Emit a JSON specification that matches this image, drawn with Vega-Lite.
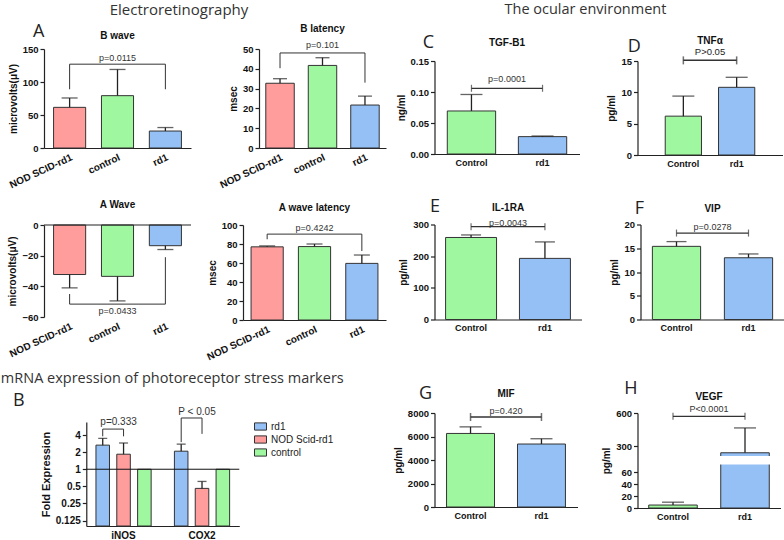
{
  "$schema": "https://vega.github.io/schema/vega-lite/v6.json",
  "background": "white",
  "padding": {"left": 0, "top": 2, "right": 0, "bottom": 0},
  "config": {
    "font": "Liberation Sans",
    "view": {"stroke": null},
    "axis": {"grid": false, "domainColor": "#222", "domainWidth": 1.2, "tickColor": "#222", "tickWidth": 1.2, "tickSize": 4, "labelOverlap": false,
      "labelFont": "Liberation Sans", "labelFontWeight": "bold", "labelFontSize": 9.5, "labelColor": "#111", "labelPadding": 2,
      "titleFont": "Liberation Sans", "titleFontWeight": "bold", "titleFontSize": 10, "titleColor": "#111", "titlePadding": 4},
    "axisX": {"ticks": false, "labelAngle": 0, "labelPadding": 4},
    "title": {"font": "Liberation Sans", "fontSize": 10, "fontWeight": "bold", "color": "#111", "frame": "group", "offset": 7,
      "subtitleFont": "Liberation Sans", "subtitleFontSize": 9.5, "subtitleColor": "#222", "subtitlePadding": 1},
    "text": {"font": "Liberation Sans", "fontSize": 9, "color": "#333"}
  },
  "datasets": {
    "bwave": [{"g": "NOD SCID-rd1", "v": 61.6, "e": 75.8}, {"g": "control", "v": 79.3, "e": 119}, {"g": "rd1", "v": 25.7, "e": 31}],
    "bwave_br": [{"g": "NOD SCID-rd1", "y": 89, "o": 1}, {"g": "NOD SCID-rd1", "y": 127, "o": 2}, {"g": "rd1", "y": 127, "o": 3}, {"g": "rd1", "y": 89, "o": 4}],
    "bwave_p": [{"g": "control", "y": 137, "label": "p=0.0115"}],
    "blat": [{"g": "NOD SCID-rd1", "v": 32.7, "e": 35}, {"g": "control", "v": 41.7, "e": 45.6}, {"g": "rd1", "v": 21.7, "e": 26.2}],
    "blat_br": [{"g": "NOD SCID-rd1", "y": 40.3, "o": 1}, {"g": "NOD SCID-rd1", "y": 48, "o": 2}, {"g": "rd1", "y": 48, "o": 3}, {"g": "rd1", "y": 33, "o": 4}],
    "blat_p": [{"g": "control", "y": 51.8, "label": "p=0.101"}],
    "awave": [{"g": "NOD SCID-rd1", "v": -32.3, "e": -41}, {"g": "control", "v": -33.5, "e": -49.5}, {"g": "rd1", "v": -13.5, "e": -16}],
    "awave_br": [{"g": "NOD SCID-rd1", "y": -45, "o": 1}, {"g": "NOD SCID-rd1", "y": -51.6, "o": 2}, {"g": "rd1", "y": -51.6, "o": 3}, {"g": "rd1", "y": -21, "o": 4}],
    "awave_p": [{"g": "control", "y": -56, "label": "p=0.0433"}],
    "alat": [{"g": "NOD SCID-rd1", "v": 77, "e": 78}, {"g": "control", "v": 77.3, "e": 80}, {"g": "rd1", "v": 59.6, "e": 68.4}],
    "alat_br": [{"g": "NOD SCID-rd1", "y": 85, "o": 1}, {"g": "NOD SCID-rd1", "y": 90.4, "o": 2}, {"g": "rd1", "y": 90.4, "o": 3}, {"g": "rd1", "y": 72.6, "o": 4}],
    "alat_p": [{"g": "control", "y": 97, "label": "p=0.4242"}],
    "mrna": [
      {"cat": "iNOS", "grp": "rd1", "v": 2.66, "e": 3.5},
      {"cat": "iNOS", "grp": "NOD Scid-rd1", "v": 1.84, "e": 2.9},
      {"cat": "iNOS", "grp": "control", "v": 1},
      {"cat": "COX2", "grp": "rd1", "v": 2.08, "e": 2.77},
      {"cat": "COX2", "grp": "NOD Scid-rd1", "v": 0.46, "e": 0.61},
      {"cat": "COX2", "grp": "control", "v": 1}
    ],
    "mrna_br": [
      {"cat": "iNOS", "grp": "rd1", "y": 3.8, "o": 1},
      {"cat": "iNOS", "grp": "rd1", "y": 5.1, "o": 2},
      {"cat": "iNOS", "grp": "NOD Scid-rd1", "y": 5.1, "o": 3},
      {"cat": "iNOS", "grp": "NOD Scid-rd1", "y": 3.8, "o": 4},
      {"cat": "COX2", "grp": "rd1", "y": 3.0, "o": 1},
      {"cat": "COX2", "grp": "rd1", "y": 8.0, "o": 2},
      {"cat": "COX2", "grp": "NOD Scid-rd1", "y": 8.0, "o": 3},
      {"cat": "COX2", "grp": "NOD Scid-rd1", "y": 4.2, "o": 4}
    ],
    "mrna_p": [{"cat": "iNOS", "y": 6.8, "label": "p=0.333"}, {"cat": "COX2", "y": 10.2, "label": "P < 0.05"}],
    "tgf": [{"g": "Control", "v": 0.0694, "e": 0.096}, {"g": "rd1", "v": 0.028, "e": 0.029}],
    "tgf_br": [{"g": "Control", "y": 0.106}, {"g": "rd1", "y": 0.106}],
    "tgf_p": [{"y": 0.121, "label": "p=0.0001"}],
    "tnf": [{"g": "Control", "v": 6.2, "e": 9.4}, {"g": "rd1", "v": 10.8, "e": 12.4}],
    "tnf_br": [{"g": "Control", "y": 15.1}, {"g": "rd1", "y": 15.1}],
    "il": [{"g": "Control", "v": 259, "e": 267}, {"g": "rd1", "v": 193, "e": 245}],
    "il_br": [{"g": "Control", "y": 293}, {"g": "rd1", "y": 293}],
    "il_p": [{"y": 304, "label": "p=0.0043"}],
    "vip": [{"g": "Control", "v": 15.4, "e": 16.4}, {"g": "rd1", "v": 13.0, "e": 13.8}],
    "vip_br": [{"g": "Control", "y": 18.2}, {"g": "rd1", "y": 18.2}],
    "vip_p": [{"y": 19.4, "label": "p=0.0278"}],
    "mif": [{"g": "Control", "v": 6260, "e": 6820}, {"g": "rd1", "v": 5360, "e": 5810}],
    "mif_br": [{"g": "Control", "y": 7660}, {"g": "rd1", "y": 7660}],
    "mif_p": [{"y": 8170, "label": "p=0.420"}],
    "vegf": [{"g": "Control", "v": 5, "e": 9.8}, {"g": "rd1", "v": 243, "e": 466}],
    "vegf_br": [{"g": "Control", "y": 570}, {"g": "rd1", "y": 570}],
    "vegf_p": [{"y": 636, "label": "P<0.0001"}]
  },
  "resolve": {"scale": {"fill": "independent", "color": "shared"}, "legend": {"color": "shared"}},
  "columns": 2,
  "align": "none",
  "spacing": 6.5,
  "concat": [
    {
      "spacing": 8,
      "center": true,
      "resolve": {"scale": {"fill": "independent", "color": "shared"}, "legend": {"color": "shared"}},
      "vconcat": [
        {
          "spacing": 10,
          "resolve": {"scale": {"fill": "independent"}},
          "vconcat": [
            {
              "title": {"text": "Electroretinography", "font": "Open Sans", "fontSize": 15, "fontWeight": "normal", "color": "#333", "frame": "bounds", "anchor": "start", "dx": 102, "offset": 5.5},
              "spacing": 68,
              "bounds": "flush",
              "resolve": {"scale": {"fill": "independent"}},
              "hconcat": [
                {
                  "width": 147, "height": 87,
                  "title": {"text": "B wave", "offset": -18},
                  "layer": [
                    {"data": {"name": "bwave"}, "mark": {"type": "bar", "stroke": "#333", "strokeWidth": 1},
                      "encoding": {
                        "x": {"field": "g", "type": "nominal", "title": null, "scale": {"domain": ["NOD SCID-rd1", "control", "rd1"], "paddingInner": 0.33, "paddingOuter": 0.2}, "axis": {"labelAngle": -25, "labelFontSize": 10}},
                        "y": {"field": "v", "type": "quantitative", "title": "microvolts(μV)", "scale": {"domain": [0, 150], "range": [87, -12], "nice": false}, "axis": {"values": [0, 50, 100, 150], "tickCount": 20}},
                        "fill": {"field": "g", "type": "nominal", "scale": {"domain": ["NOD SCID-rd1", "control", "rd1"], "range": ["#ff9d9d", "#9ff79f", "#94c0f5"]}, "legend": null}
                      }},
                    {"data": {"name": "bwave"}, "mark": {"type": "rule", "color": "#222", "strokeWidth": 1.3},
                      "encoding": {"x": {"field": "g", "type": "nominal"}, "y": {"field": "v", "type": "quantitative"}, "y2": {"field": "e"}}},
                    {"data": {"name": "bwave"}, "mark": {"type": "tick", "color": "#222", "thickness": 1.3, "size": 16},
                      "encoding": {"x": {"field": "g", "type": "nominal"}, "y": {"field": "e", "type": "quantitative"}}},
                    {"data": {"name": "bwave_br"}, "mark": {"type": "line", "color": "#333", "strokeWidth": 1},
                      "encoding": {"x": {"field": "g", "type": "nominal"}, "y": {"field": "y", "type": "quantitative"}, "order": {"field": "o"}}},
                    {"data": {"name": "bwave_p"}, "mark": {"type": "text"},
                      "encoding": {"x": {"field": "g", "type": "nominal"}, "y": {"field": "y", "type": "quantitative"}, "text": {"field": "label"}}},
                    {"data": {"values": [{"letter": "A"}]}, "mark": {"type": "text", "font": "Open Sans", "fontSize": 18, "color": "#222", "dx": -31, "dy": -17},
                      "encoding": {"x": {"datum": "NOD SCID-rd1"}, "y": {"datum": 150}, "text": {"field": "letter"}}}
                  ]
                },
                {
                  "width": 127, "height": 87,
                  "title": {"text": "B latency", "offset": 7},
                  "layer": [
                    {"data": {"name": "blat"}, "mark": {"type": "bar", "stroke": "#333", "strokeWidth": 1},
                      "encoding": {
                        "x": {"field": "g", "type": "nominal", "title": null, "scale": {"domain": ["NOD SCID-rd1", "control", "rd1"], "paddingInner": 0.33, "paddingOuter": 0.16}, "axis": {"labelAngle": -25, "labelFontSize": 10}},
                        "y": {"field": "v", "type": "quantitative", "title": "msec", "scale": {"domain": [0, 50], "range": [87, -12], "nice": false}, "axis": {"values": [0, 10, 20, 30, 40, 50], "tickCount": 20}},
                        "fill": {"field": "g", "type": "nominal", "scale": {"domain": ["NOD SCID-rd1", "control", "rd1"], "range": ["#ff9d9d", "#9ff79f", "#94c0f5"]}, "legend": null}
                      }},
                    {"data": {"name": "blat"}, "mark": {"type": "rule", "color": "#222", "strokeWidth": 1.3},
                      "encoding": {"x": {"field": "g", "type": "nominal"}, "y": {"field": "v", "type": "quantitative"}, "y2": {"field": "e"}}},
                    {"data": {"name": "blat"}, "mark": {"type": "tick", "color": "#222", "thickness": 1.3, "size": 14},
                      "encoding": {"x": {"field": "g", "type": "nominal"}, "y": {"field": "e", "type": "quantitative"}}},
                    {"data": {"name": "blat_br"}, "mark": {"type": "line", "color": "#333", "strokeWidth": 1},
                      "encoding": {"x": {"field": "g", "type": "nominal"}, "y": {"field": "y", "type": "quantitative"}, "order": {"field": "o"}}},
                    {"data": {"name": "blat_p"}, "mark": {"type": "text"},
                      "encoding": {"x": {"field": "g", "type": "nominal"}, "y": {"field": "y", "type": "quantitative"}, "text": {"field": "label"}}}
                  ]
                }
              ]
            },
            {
              "spacing": 52,
              "bounds": "flush",
              "resolve": {"scale": {"fill": "independent"}},
              "hconcat": [
                {
                  "width": 147, "height": 92,
                  "title": {"text": "A Wave", "offset": 9.75},
                  "layer": [
                    {"data": {"name": "awave"}, "mark": {"type": "bar", "stroke": "#333", "strokeWidth": 1},
                      "encoding": {
                        "x": {"field": "g", "type": "nominal", "title": null, "scale": {"domain": ["NOD SCID-rd1", "control", "rd1"], "paddingInner": 0.33, "paddingOuter": 0.2}, "axis": {"labelAngle": -25, "labelFontSize": 10, "domain": false}},
                        "y": {"field": "v", "type": "quantitative", "title": "microvolts(μV)", "scale": {"domain": [-60, 0], "nice": false}, "axis": {"values": [-60, -40, -20, 0], "tickCount": 20}},
                        "fill": {"field": "g", "type": "nominal", "scale": {"domain": ["NOD SCID-rd1", "control", "rd1"], "range": ["#ff9d9d", "#9ff79f", "#94c0f5"]}, "legend": null}
                      }},
                    {"data": {"name": "awave"}, "mark": {"type": "rule", "color": "#222", "strokeWidth": 1.3},
                      "encoding": {"x": {"field": "g", "type": "nominal"}, "y": {"field": "v", "type": "quantitative"}, "y2": {"field": "e"}}},
                    {"data": {"name": "awave"}, "mark": {"type": "tick", "color": "#222", "thickness": 1.3, "size": 16},
                      "encoding": {"x": {"field": "g", "type": "nominal"}, "y": {"field": "e", "type": "quantitative"}}},
                    {"mark": {"type": "rule", "color": "#222", "strokeWidth": 1.2}, "data": {"values": [{"base": 0}]},
                      "encoding": {"y": {"field": "base", "type": "quantitative"}}},
                    {"data": {"name": "awave_br"}, "mark": {"type": "line", "color": "#333", "strokeWidth": 1},
                      "encoding": {"x": {"field": "g", "type": "nominal"}, "y": {"field": "y", "type": "quantitative"}, "order": {"field": "o"}}},
                    {"data": {"name": "awave_p"}, "mark": {"type": "text"},
                      "encoding": {"x": {"field": "g", "type": "nominal"}, "y": {"field": "y", "type": "quantitative"}, "text": {"field": "label"}}}
                  ]
                },
                {
                  "width": 143, "height": 95,
                  "title": {"text": "A wave latency", "offset": 6.75},
                  "layer": [
                    {"data": {"name": "alat"}, "mark": {"type": "bar", "stroke": "#333", "strokeWidth": 1},
                      "encoding": {
                        "x": {"field": "g", "type": "nominal", "title": null, "scale": {"domain": ["NOD SCID-rd1", "control", "rd1"], "paddingInner": 0.32, "paddingOuter": 0.17}, "axis": {"labelAngle": -25, "labelFontSize": 10}},
                        "y": {"field": "v", "type": "quantitative", "title": "msec", "scale": {"domain": [0, 100], "nice": false}, "axis": {"values": [0, 20, 40, 60, 80, 100], "tickCount": 20}},
                        "fill": {"field": "g", "type": "nominal", "scale": {"domain": ["NOD SCID-rd1", "control", "rd1"], "range": ["#ff9d9d", "#9ff79f", "#94c0f5"]}, "legend": null}
                      }},
                    {"data": {"name": "alat"}, "mark": {"type": "rule", "color": "#222", "strokeWidth": 1.3},
                      "encoding": {"x": {"field": "g", "type": "nominal"}, "y": {"field": "v", "type": "quantitative"}, "y2": {"field": "e"}}},
                    {"data": {"name": "alat"}, "mark": {"type": "tick", "color": "#222", "thickness": 1.3, "size": 16},
                      "encoding": {"x": {"field": "g", "type": "nominal"}, "y": {"field": "e", "type": "quantitative"}}},
                    {"data": {"name": "alat_br"}, "mark": {"type": "line", "color": "#333", "strokeWidth": 1},
                      "encoding": {"x": {"field": "g", "type": "nominal"}, "y": {"field": "y", "type": "quantitative"}, "order": {"field": "o"}}},
                    {"data": {"name": "alat_p"}, "mark": {"type": "text"},
                      "encoding": {"x": {"field": "g", "type": "nominal"}, "y": {"field": "y", "type": "quantitative"}, "text": {"field": "label"}}}
                  ]
                }
              ]
            }
          ]
        },
        {
          "width": 153, "height": 104,
          "title": {"text": "mRNA expression of photoreceptor stress markers", "font": "Open Sans", "fontSize": 14.5, "fontWeight": "normal", "color": "#333", "offset": 6, "dx": 9.5},
          "layer": [
            {"data": {"name": "mrna"}, "mark": {"type": "bar", "stroke": "#333", "strokeWidth": 1},
              "encoding": {
                "x": {"field": "cat", "type": "nominal", "title": null, "scale": {"domain": ["iNOS", "COX2"], "paddingInner": 0.27, "paddingOuter": 0.11}, "axis": {"labelFontSize": 10}},
                "xOffset": {"field": "grp", "type": "nominal", "scale": {"domain": ["rd1", "NOD Scid-rd1", "control"], "paddingInner": 0.35, "paddingOuter": 0.05}},
                "y": {"field": "v", "type": "quantitative", "title": "Fold Expression", "scale": {"type": "log", "base": 2, "domain": [0.1, 6.8], "nice": false}, "axis": {"values": [0.125, 0.25, 0.5, 1, 2, 4], "tickCount": 20, "format": "~g", "titleFontSize": 11, "labelFontSize": 10}},
                "y2": {"datum": 0.1},
                "color": {"field": "grp", "type": "nominal", "scale": {"domain": ["rd1", "NOD Scid-rd1", "control"], "range": ["#94c0f5", "#ff9d9d", "#9ff79f"]},
                  "legend": {"title": null, "orient": "none", "legendX": 210, "legendY": 359, "symbolType": "M-1,-0.6H1V0.6H-1Z", "symbolSize": 144, "symbolStrokeColor": "#333", "symbolStrokeWidth": 1, "labelFont": "Liberation Sans", "labelFontSize": 10, "labelColor": "#222", "rowPadding": 0}}
              }},
            {"data": {"name": "mrna"}, "transform": [{"filter": "isValid(datum.e)"}], "mark": {"type": "rule", "color": "#222", "strokeWidth": 1.3},
              "encoding": {"x": {"field": "cat", "type": "nominal"}, "xOffset": {"field": "grp", "type": "nominal"}, "y": {"field": "v", "type": "quantitative"}, "y2": {"field": "e"}}},
            {"data": {"name": "mrna"}, "transform": [{"filter": "isValid(datum.e)"}], "mark": {"type": "tick", "color": "#222", "thickness": 1.3, "size": 9},
              "encoding": {"x": {"field": "cat", "type": "nominal"}, "xOffset": {"field": "grp", "type": "nominal"}, "y": {"field": "e", "type": "quantitative"}}},
            {"mark": {"type": "rule", "color": "#111", "strokeWidth": 1}, "data": {"values": [{"base": 1}]},
              "encoding": {"y": {"field": "base", "type": "quantitative"}}},
            {"data": {"name": "mrna_br"}, "mark": {"type": "line", "color": "#333", "strokeWidth": 1},
              "encoding": {"x": {"field": "cat", "type": "nominal"}, "xOffset": {"field": "grp", "type": "nominal"}, "y": {"field": "y", "type": "quantitative"}, "order": {"field": "o"}, "detail": {"field": "cat"}}},
            {"data": {"name": "mrna_p"}, "mark": {"type": "text", "fontSize": 10, "dx": -5},
              "encoding": {"x": {"field": "cat", "type": "nominal"}, "y": {"field": "y", "type": "quantitative"}, "text": {"field": "label"}}},
            {"data": {"values": [{"letter": "\u00a0\u00a0\u00a0\u00a0\u00a0\u00a0\u00a0\u00a0B"}]}, "mark": {"type": "text", "font": "Open Sans", "fontSize": 18, "color": "#222", "align": "right", "dx": -99, "dy": -34},
              "encoding": {"x": {"datum": "iNOS"}, "y": {"datum": 4}, "text": {"field": "letter"}}}
          ]
        }
      ]
    },
    {
      "spacing": 46,
      "resolve": {"scale": {"fill": "independent"}},
      "vconcat": [
        {
          "spacing": 29.5,
          "resolve": {"scale": {"fill": "independent"}},
          "vconcat": [
            {
              "title": {"text": "The ocular environment", "font": "Open Sans", "fontSize": 14.5, "fontWeight": "normal", "color": "#333", "frame": "bounds", "anchor": "start", "dx": 108.5, "offset": 16.5},
              "spacing": 58,
              "bounds": "flush",
              "resolve": {"scale": {"fill": "independent"}},
              "hconcat": [
                {
                  "width": 145, "height": 93,
                  "title": {"text": "TGF-B1", "offset": -14},
                  "layer": [
                    {"data": {"name": "tgf"}, "mark": {"type": "bar", "stroke": "#333", "strokeWidth": 1},
                      "encoding": {
                        "x": {"field": "g", "type": "nominal", "title": null, "scale": {"domain": ["Control", "rd1"], "paddingInner": 0.32, "paddingOuter": 0.18}, "axis": {"labelFontSize": 9}},
                        "y": {"field": "v", "type": "quantitative", "title": "ng/ml", "scale": {"domain": [0, 0.15], "nice": false}, "axis": {"values": [0, 0.05, 0.1, 0.15], "tickCount": 20, "format": ".2f"}},
                        "fill": {"field": "g", "type": "nominal", "scale": {"domain": ["Control", "rd1"], "range": ["#9ff79f", "#94c0f5"]}, "legend": null}
                      }},
                    {"data": {"name": "tgf"}, "mark": {"type": "rule", "color": "#222", "strokeWidth": 1.3},
                      "encoding": {"x": {"field": "g", "type": "nominal"}, "y": {"field": "v", "type": "quantitative"}, "y2": {"field": "e"}}},
                    {"data": {"name": "tgf"}, "mark": {"type": "tick", "color": "#222", "thickness": 1.3, "size": 22},
                      "encoding": {"x": {"field": "g", "type": "nominal"}, "y": {"field": "e", "type": "quantitative"}}},
                    {"data": {"name": "tgf_br"}, "mark": {"type": "line", "color": "#333", "strokeWidth": 1.2},
                      "encoding": {"x": {"field": "g", "type": "nominal"}, "y": {"field": "y", "type": "quantitative"}}},
                    {"data": {"name": "tgf_br"}, "mark": {"type": "tick", "orient": "vertical", "color": "#333", "thickness": 1.2, "size": 7},
                      "encoding": {"x": {"field": "g", "type": "nominal"}, "y": {"field": "y", "type": "quantitative"}}},
                    {"data": {"name": "tgf_p"}, "mark": {"type": "text"},
                      "encoding": {"y": {"field": "y", "type": "quantitative"}, "text": {"field": "label"}}},
                    {"data": {"values": [{"letter": "C"}]}, "mark": {"type": "text", "font": "Open Sans", "fontSize": 18, "color": "#222", "dx": -43, "dy": -18},
                      "encoding": {"x": {"datum": "Control"}, "y": {"datum": 0.15}, "text": {"field": "letter"}}}
                  ]
                },
                {
                  "width": 145, "height": 94,
                  "title": {"text": "TNFα", "subtitle": "P>0.05", "offset": -18.75},
                  "layer": [
                    {"data": {"name": "tnf"}, "mark": {"type": "bar", "stroke": "#333", "strokeWidth": 1},
                      "encoding": {
                        "x": {"field": "g", "type": "nominal", "title": null, "scale": {"domain": ["Control", "rd1"], "paddingInner": 0.32, "paddingOuter": 0.52}, "axis": {"labelFontSize": 9}},
                        "y": {"field": "v", "type": "quantitative", "title": "pg/ml", "scale": {"domain": [0, 15], "nice": false}, "axis": {"values": [0, 5, 10, 15], "tickCount": 20}},
                        "fill": {"field": "g", "type": "nominal", "scale": {"domain": ["Control", "rd1"], "range": ["#9ff79f", "#94c0f5"]}, "legend": null}
                      }},
                    {"data": {"name": "tnf"}, "mark": {"type": "rule", "color": "#222", "strokeWidth": 1.3},
                      "encoding": {"x": {"field": "g", "type": "nominal"}, "y": {"field": "v", "type": "quantitative"}, "y2": {"field": "e"}}},
                    {"data": {"name": "tnf"}, "mark": {"type": "tick", "color": "#222", "thickness": 1.3, "size": 22},
                      "encoding": {"x": {"field": "g", "type": "nominal"}, "y": {"field": "e", "type": "quantitative"}}},
                    {"data": {"name": "tnf_br"}, "mark": {"type": "line", "color": "#333", "strokeWidth": 1.5},
                      "encoding": {"x": {"field": "g", "type": "nominal"}, "y": {"field": "y", "type": "quantitative"}}},
                    {"data": {"name": "tnf_br"}, "mark": {"type": "tick", "orient": "vertical", "color": "#333", "thickness": 1.5, "size": 8},
                      "encoding": {"x": {"field": "g", "type": "nominal"}, "y": {"field": "y", "type": "quantitative"}}},
                    {"data": {"values": [{"letter": "D"}]}, "mark": {"type": "text", "font": "Open Sans", "fontSize": 18, "color": "#222", "dx": -49, "dy": -14},
                      "encoding": {"x": {"datum": "Control"}, "y": {"datum": 15}, "text": {"field": "letter"}}}
                  ]
                }
              ]
            },
            {
              "spacing": 59,
              "bounds": "flush",
              "resolve": {"scale": {"fill": "independent"}},
              "hconcat": [
                {
                  "width": 147, "height": 95,
                  "title": {"text": "IL-1RA", "offset": -15},
                  "layer": [
                    {"data": {"name": "il"}, "mark": {"type": "bar", "stroke": "#333", "strokeWidth": 1},
                      "encoding": {
                        "x": {"field": "g", "type": "nominal", "title": null, "scale": {"domain": ["Control", "rd1"], "paddingInner": 0.31, "paddingOuter": 0.15}, "axis": {"labelFontSize": 9}},
                        "y": {"field": "v", "type": "quantitative", "title": "pg/ml", "scale": {"domain": [0, 300], "nice": false}, "axis": {"values": [0, 100, 200, 300], "tickCount": 20}},
                        "fill": {"field": "g", "type": "nominal", "scale": {"domain": ["Control", "rd1"], "range": ["#9ff79f", "#94c0f5"]}, "legend": null}
                      }},
                    {"data": {"name": "il"}, "mark": {"type": "rule", "color": "#222", "strokeWidth": 1.3},
                      "encoding": {"x": {"field": "g", "type": "nominal"}, "y": {"field": "v", "type": "quantitative"}, "y2": {"field": "e"}}},
                    {"data": {"name": "il"}, "mark": {"type": "tick", "color": "#222", "thickness": 1.3, "size": 20},
                      "encoding": {"x": {"field": "g", "type": "nominal"}, "y": {"field": "e", "type": "quantitative"}}},
                    {"data": {"name": "il_br"}, "mark": {"type": "line", "color": "#333", "strokeWidth": 1.2},
                      "encoding": {"x": {"field": "g", "type": "nominal"}, "y": {"field": "y", "type": "quantitative"}}},
                    {"data": {"name": "il_br"}, "mark": {"type": "tick", "orient": "vertical", "color": "#333", "thickness": 1.2, "size": 7},
                      "encoding": {"x": {"field": "g", "type": "nominal"}, "y": {"field": "y", "type": "quantitative"}}},
                    {"data": {"name": "il_p"}, "mark": {"type": "text"},
                      "encoding": {"y": {"field": "y", "type": "quantitative"}, "text": {"field": "label"}}},
                    {"data": {"values": [{"letter": "E"}]}, "mark": {"type": "text", "font": "Open Sans", "fontSize": 18, "color": "#222", "dx": -36, "dy": -17.5},
                      "encoding": {"x": {"datum": "Control"}, "y": {"datum": 300}, "text": {"field": "letter"}}}
                  ]
                },
                {
                  "width": 144, "height": 95,
                  "title": {"text": "VIP", "offset": -14},
                  "layer": [
                    {"data": {"name": "vip"}, "mark": {"type": "bar", "stroke": "#333", "strokeWidth": 1},
                      "encoding": {
                        "x": {"field": "g", "type": "nominal", "title": null, "scale": {"domain": ["Control", "rd1"], "paddingInner": 0.33, "paddingOuter": 0.165}, "axis": {"labelFontSize": 9}},
                        "y": {"field": "v", "type": "quantitative", "title": "pg/ml", "scale": {"domain": [0, 20], "nice": false}, "axis": {"values": [0, 5, 10, 15, 20], "tickCount": 20}},
                        "fill": {"field": "g", "type": "nominal", "scale": {"domain": ["Control", "rd1"], "range": ["#9ff79f", "#94c0f5"]}, "legend": null}
                      }},
                    {"data": {"name": "vip"}, "mark": {"type": "rule", "color": "#222", "strokeWidth": 1.3},
                      "encoding": {"x": {"field": "g", "type": "nominal"}, "y": {"field": "v", "type": "quantitative"}, "y2": {"field": "e"}}},
                    {"data": {"name": "vip"}, "mark": {"type": "tick", "color": "#222", "thickness": 1.3, "size": 20},
                      "encoding": {"x": {"field": "g", "type": "nominal"}, "y": {"field": "e", "type": "quantitative"}}},
                    {"data": {"name": "vip_br"}, "mark": {"type": "line", "color": "#333", "strokeWidth": 1.2},
                      "encoding": {"x": {"field": "g", "type": "nominal"}, "y": {"field": "y", "type": "quantitative"}}},
                    {"data": {"name": "vip_br"}, "mark": {"type": "tick", "orient": "vertical", "color": "#333", "thickness": 1.2, "size": 7},
                      "encoding": {"x": {"field": "g", "type": "nominal"}, "y": {"field": "y", "type": "quantitative"}}},
                    {"data": {"name": "vip_p"}, "mark": {"type": "text"},
                      "encoding": {"y": {"field": "y", "type": "quantitative"}, "text": {"field": "label"}}},
                    {"data": {"values": [{"letter": "F"}]}, "mark": {"type": "text", "font": "Open Sans", "fontSize": 18, "color": "#222", "dx": -37, "dy": -15.5},
                      "encoding": {"x": {"datum": "Control"}, "y": {"datum": 20}, "text": {"field": "letter"}}}
                  ]
                }
              ]
            }
          ]
        },
        {
          "spacing": 60,
          "bounds": "flush",
          "resolve": {"scale": {"fill": "independent"}},
          "hconcat": [
            {
              "width": 143, "height": 94,
              "title": {"text": "MIF", "offset": -14},
              "layer": [
                {"data": {"name": "mif"}, "mark": {"type": "bar", "stroke": "#333", "strokeWidth": 1},
                  "encoding": {
                    "x": {"field": "g", "type": "nominal", "title": null, "scale": {"domain": ["Control", "rd1"], "paddingInner": 0.324, "paddingOuter": 0.17}, "axis": {"labelFontSize": 9}},
                    "y": {"field": "v", "type": "quantitative", "title": "pg/ml", "scale": {"domain": [0, 8000], "nice": false}, "axis": {"values": [0, 2000, 4000, 6000, 8000], "tickCount": 20, "format": "d"}},
                    "fill": {"field": "g", "type": "nominal", "scale": {"domain": ["Control", "rd1"], "range": ["#9ff79f", "#94c0f5"]}, "legend": null}
                  }},
                {"data": {"name": "mif"}, "mark": {"type": "rule", "color": "#222", "strokeWidth": 1.3},
                  "encoding": {"x": {"field": "g", "type": "nominal"}, "y": {"field": "v", "type": "quantitative"}, "y2": {"field": "e"}}},
                {"data": {"name": "mif"}, "mark": {"type": "tick", "color": "#222", "thickness": 1.3, "size": 22},
                  "encoding": {"x": {"field": "g", "type": "nominal"}, "y": {"field": "e", "type": "quantitative"}}},
                {"data": {"name": "mif_br"}, "mark": {"type": "line", "color": "#333", "strokeWidth": 1.5},
                  "encoding": {"x": {"field": "g", "type": "nominal"}, "y": {"field": "y", "type": "quantitative"}}},
                {"data": {"name": "mif_br"}, "mark": {"type": "tick", "orient": "vertical", "color": "#333", "thickness": 1.5, "size": 8},
                  "encoding": {"x": {"field": "g", "type": "nominal"}, "y": {"field": "y", "type": "quantitative"}}},
                {"data": {"name": "mif_p"}, "mark": {"type": "text"},
                  "encoding": {"y": {"field": "y", "type": "quantitative"}, "text": {"field": "label"}}},
                {"data": {"values": [{"letter": "G"}]}, "mark": {"type": "text", "font": "Open Sans", "fontSize": 18, "color": "#222", "dx": -45, "dy": -19.5},
                  "encoding": {"x": {"datum": "Control"}, "y": {"datum": 8000}, "text": {"field": "letter"}}}
              ]
            },
            {
              "width": 143, "height": 95,
              "title": {"text": "VEGF", "offset": -22},
              "layer": [
                {"data": {"name": "vegf"}, "mark": {"type": "bar", "stroke": "#333", "strokeWidth": 1},
                  "encoding": {
                    "x": {"field": "g", "type": "nominal", "title": null, "scale": {"domain": ["Control", "rd1"], "paddingInner": 0.326, "paddingOuter": 0.156}, "axis": {"labelFontSize": 9}},
                    "y": {"field": "v", "type": "quantitative", "title": "pg/ml", "scale": {"type": "linear", "domain": [0, 75, 205, 600], "range": [95, 50.5, 44, 0], "nice": false, "zero": false}, "axis": {"values": [0, 20, 40, 60, 300, 600], "tickCount": 20}},
                    "fill": {"field": "g", "type": "nominal", "scale": {"domain": ["Control", "rd1"], "range": ["#9ff79f", "#94c0f5"]}, "legend": null}
                  }},
                {"data": {"values": [{"g": "rd1"}]}, "mark": {"type": "bar", "fill": "white", "stroke": "white", "strokeWidth": 2},
                  "encoding": {"x": {"field": "g", "type": "nominal"}, "y": {"datum": 75}, "y2": {"datum": 205}}},
                {"data": {"name": "vegf"}, "mark": {"type": "rule", "color": "#222", "strokeWidth": 1.3},
                  "encoding": {"x": {"field": "g", "type": "nominal"}, "y": {"field": "v", "type": "quantitative"}, "y2": {"field": "e"}}},
                {"data": {"name": "vegf"}, "mark": {"type": "tick", "color": "#222", "thickness": 1.3, "size": 22},
                  "encoding": {"x": {"field": "g", "type": "nominal"}, "y": {"field": "e", "type": "quantitative"}}},
                {"data": {"name": "vegf_br"}, "mark": {"type": "line", "color": "#333", "strokeWidth": 1.2},
                  "encoding": {"x": {"field": "g", "type": "nominal"}, "y": {"field": "y", "type": "quantitative"}}},
                {"data": {"name": "vegf_br"}, "mark": {"type": "tick", "orient": "vertical", "color": "#333", "thickness": 1.2, "size": 7},
                  "encoding": {"x": {"field": "g", "type": "nominal"}, "y": {"field": "y", "type": "quantitative"}}},
                {"data": {"name": "vegf_p"}, "mark": {"type": "text"},
                  "encoding": {"y": {"field": "y", "type": "quantitative"}, "text": {"field": "label"}}},
                {"data": {"values": [{"letter": "H"}]}, "mark": {"type": "text", "font": "Open Sans", "fontSize": 18, "color": "#222", "dx": -42, "dy": -24.5},
                  "encoding": {"x": {"datum": "Control"}, "y": {"datum": 600}, "text": {"field": "letter"}}}
              ]
            }
          ]
        }
      ]
    }
  ]
}
